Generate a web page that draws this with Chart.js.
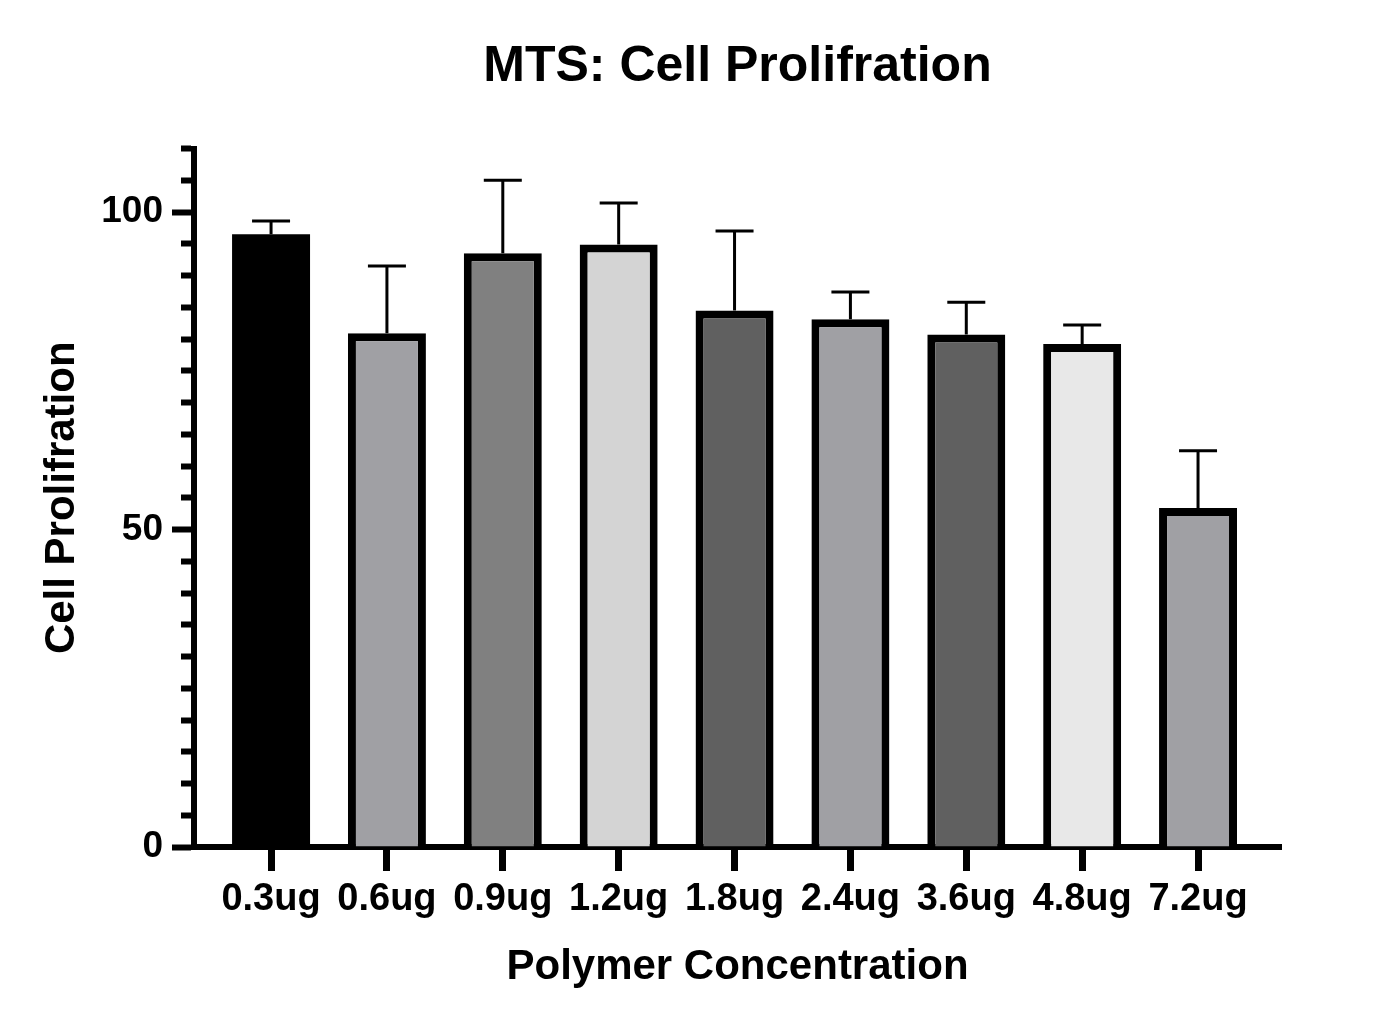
<!DOCTYPE html>
<html>
<head>
<meta charset="utf-8">
<script src="https://cdn.jsdelivr.net/npm/chart.js@4"></script>
<style>
  body { margin: 0; background: #fff; }
  canvas { display: block; }
</style>
</head>
<body>
<canvas id="myChart" width="1400" height="1029"></canvas>
<script>
'use strict'

// 濃度ごとのラベルと値
const labels = ['0.3ug', '0.6ug', '0.9ug', '1.2ug', '1.8ug', '2.4ug', '3.6ug', '4.8ug', '7.2ug'];
const means = [96.5, 80.9, 93.5, 94.9, 84.5, 83.1, 80.7, 79.2, 53.4];
const errs = [2.1, 10.6, 11.5, 6.5, 12.5, 4.3, 5.1, 3.0, 9.0];
const colors = ['#000000', '#a0a0a4', '#808080', '#d4d4d4', '#606060', '#a0a0a4', '#606060', '#e8e8e8', '#a0a0a4'];
const yMajor = [0, 50, 100];

const fontFamily = '"Liberation Sans", Arial, sans-serif';

// エラーバー（上側のみ）
const errorBars = {
  id: 'errorBars',
  afterDatasetsDraw(chart) {
    const ctx = chart.ctx;
    const xs = chart.scales.x;
    const ys = chart.scales.y;
    ctx.save();
    ctx.strokeStyle = '#000';
    ctx.lineWidth = 3;
    for (let i = 0; i < means.length; i++) {
      const x = xs.getPixelForValue(i);
      const y0 = ys.getPixelForValue(means[i]);
      const y1 = ys.getPixelForValue(means[i] + errs[i]);
      ctx.beginPath();
      ctx.moveTo(x, y0);
      ctx.lineTo(x, y1);
      ctx.moveTo(x - 19, y1);
      ctx.lineTo(x + 19, y1);
      ctx.stroke();
    }
    ctx.restore();
  }
};

// タイトルをプロット領域の中央に寄せる
const centerTitle = {
  id: 'centerTitle',
  afterLayout(chart) {
    if (chart.titleBlock) {
      chart.titleBlock.left = chart.chartArea.left;
      chart.titleBlock.right = chart.chartArea.right;
    }
  }
};

const ctx = document.getElementById('myChart');
window.myChart = new Chart(ctx, {
  type: 'bar',
  data: {
    datasets: [{
      data: means.map((v, i) => ({x: i, y: v})),
      backgroundColor: colors,
      borderColor: '#000',
      // 黒い棒は枠なし（継ぎ目が出ないように）
      borderWidth: (c) => colors[c.dataIndex] === '#000000' ? 0 : 8,
      barPercentage: 0.673,
      categoryPercentage: 1
    }]
  },
  plugins: [errorBars, centerTitle],
  options: {
    responsive: false,
    animation: false,
    devicePixelRatio: 1,
    layout: { padding: { left: 0, right: 119, top: 0, bottom: 0 } },
    plugins: {
      legend: { display: false },
      tooltip: { enabled: false },
      title: {
        display: true,
        text: 'MTS: Cell Prolifration',
        color: '#000',
        font: { family: fontFamily, size: 50, weight: 'bold', lineHeight: 1.2 },
        padding: { top: 37, bottom: 51.5 }
      }
    },
    scales: {
      x: {
        type: 'linear',
        min: -0.665,
        max: 8.716,
        offset: false,
        z: 1,
        afterBuildTicks(scale) {
          scale.ticks = labels.map((l, i) => ({value: i}));
        },
        afterFit(scale) { scale.height = 182; },
        ticks: {
          color: '#000',
          padding: 6,
          maxRotation: 0,
          autoSkip: false,
          font: { family: fontFamily, size: 38, weight: 'bold' },
          callback: (v) => labels[v]
        },
        grid: {
          offset: false,
          drawOnChartArea: false,
          drawTicks: true,
          tickLength: 24,
          tickWidth: 7,
          tickColor: '#000',
          lineWidth: 1
        },
        border: { display: true, color: '#000', width: 6 },
        title: {
          display: true,
          text: 'Polymer Concentration',
          color: '#000',
          font: { family: fontFamily, size: 42, weight: 'bold', lineHeight: 1.2 },
          padding: { top: 0, bottom: 36 }
        }
      },
      y: {
        min: 0,
        max: 110,
        afterFit(scale) { scale.width = 194; },
        ticks: {
          stepSize: 5,
          color: '#000',
          padding: 9,
          autoSkip: false,
          font: { family: fontFamily, size: 37, weight: 'bold' },
          callback: (v) => yMajor.includes(v) ? String(v) : ''
        },
        grid: {
          drawOnChartArea: false,
          drawTicks: true,
          tickLength: 22,
          tickWidth: 6,
          tickColor: '#000',
          tickBorderDash: (c) => yMajor.includes(c.tick.value) ? [] : [20, 9],
          tickBorderDashOffset: (c) => yMajor.includes(c.tick.value) ? 0 : 20
        },
        border: { display: true, color: '#000', width: 6 },
        title: {
          display: true,
          text: 'Cell Prolifration',
          color: '#000',
          font: { family: fontFamily, size: 42, weight: 'bold', lineHeight: 1.2 },
          padding: { top: 37, bottom: 0 }
        }
      }
    }
  }
});
</script>
</body>
</html>
